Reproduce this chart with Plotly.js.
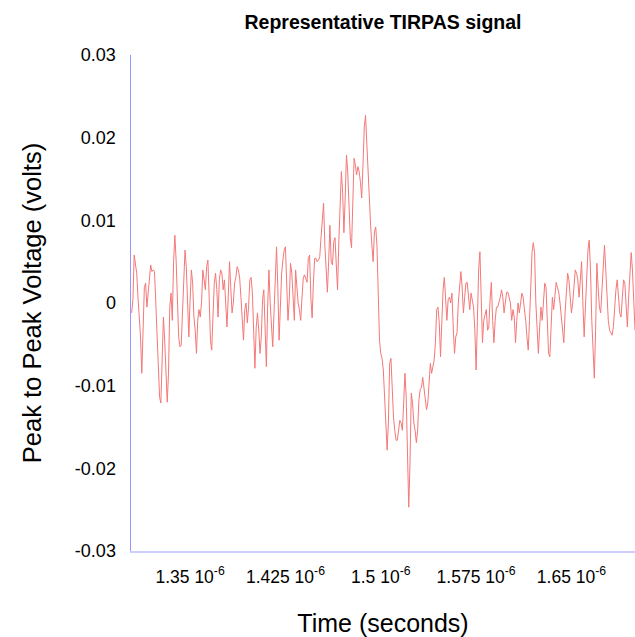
<!DOCTYPE html>
<html>
<head>
<meta charset="utf-8">
<script src="https://cdn.plot.ly/plotly-3.0.1.min.js"></script>
<style>
  html, body { margin: 0; padding: 0; background: #ffffff; }
  #chart { width: 635px; height: 637px; }
</style>
</head>
<body>
<div id="chart"></div>
<script>
// Signal sampling (oscilloscope record): first sample time and sample interval, in seconds
const startTime = 1.304e-6;
const sampleInterval = 1e-9;

// Peak-to-peak voltage samples, in millivolts, in time order
const signalSegment1 = [
  -1.2, 0.4, 5.8, 4.4, 3.6, 0.7, -1.2, -4.1, -8.5, -3.3,
  1.9, 2.4, -0.5, 1.2, 3.6, 4.6, 3.8, 4.0, 3.8, 0,
  -4.5, -8.1, -11.4, -12.1, -4.8, -1.7, -4.5, -9.3, -12.0, -8.5,
  -0.5, 1.2, -2.1, 5.0, 8.2, 5.2, 0.4, -4.1, -5.3, -5.1,
  -1.2, 3.6, 6.4, 4.4, -0.5, -4.1, 0.4, 4.0, 2.4, -1.7,
  -3.3, -6.1, -2.1, -0.8, -1.7, 0.1, 4.0, 2.8, 1.6, 4.4,
  5.2, 0.7, -4.5, -5.7, -1.2, 2.4, 3.6, 1.6, -1.7
];
const signalSegment2 = [
  2.8, 4.0, 3.6, 1.6, 2.8, 0, -2.9, 0.7, 5.0, 1.9,
  -1.2, 0, 2.4, 3.1, 4.4, 4.0, 3.0, 0.7, -2.4, -4.5,
  -0.8, 0, -2.4, -0.5, 2.8, 3.1, 1.2, -3.3, -7.9, -2.9,
  -1.2, -3.3, -6.1, -4.1, 0.4, 1.6, -2.9, -7.7, -0.5, 4.0,
  0, -3.3, -5.3, -1.2, 3.6, 6.8, 1.9, -4.5, -0.5, 3.6,
  5.2, 6.4, 6.8, 3.1, -2.1, 0.4, 4.8, 3.6, 0.7, -2.1,
  4.0, 1.9, 0
];
const signalSegment3 = [
  -0.8, -2.1, 0.6, 3.0, 3.4, 3.0, 2.5, 5.4, 5.8, 0.6,
  -1.8, 2.5, 5.4, 5.4, 5.0, 5.2, 5.6, 7.9, 10.6, 12.1,
  7.0, 3.0, 1.3, 5.0, 9.4, 5.0, 4.6, 7.4, 7.9, 4.6,
  1.6, 7.4, 11.9, 15.9, 13.4, 8.5, 12.7, 17.9, 15.9, 11.9,
  7.9, 6.7, 11.9, 17.5, 16.7, 15.5, 16.5, 15.9, 14.6, 12.7,
  16.7, 21.2, 22.7, 19.1, 15.9, 13.1, 9.4, 7.0, 5.0, 8.6,
  9.2, 7.0
];
const signalSegment4 = [
  0.4, -4.5, -6.1, -6.7, -8.1, -12.1, -15.4, -17.8, -14.5, -7.3,
  -6.7, -11.4, -13.8, -15.4, -16.6, -16.6, -15.4, -14.2, -14.5, -15.4,
  -12.1, -8.5, -11.4, -19.0, -24.7, -19.4, -10.9, -12.1, -14.5, -15.4,
  -16.9, -15.4, -11.7, -10.5, -10.2, -9.0, -10.5, -12.1, -12.9, -12.1,
  -9.7, -7.3, -8.5, -7.7, -6.9, -4.8, -0.8, -0.5, -2.4, -6.5,
  -1.7, 1.6, 3.1, 0, -2.1, 0.4, 0.7, 0, 1.2, -2.9,
  -6.1, -4.1
];
const signalSegment5 = [
  -3.6, 0, 1.9, 3.8, 1.9, -1.2, 0.7, 2.4, 2.5, 0.4,
  -0.8, 1.2, 0.4, -0.5, -3.3, -8.1, -2.1, 4.0, 6.2, 1.2,
  -4.8, -2.1, -1.2, -0.8, -3.3, -2.9, 0.4, 2.5, -2.1, -4.8,
  -2.1, -0.5, -0.5, 0, 0.7, 1.6, 0.7, -1.2, 0.4, 1.3,
  1.3, 0.7, 0, -2.1, -0.8, -1.7, -4.8, -2.1, 0, -1.2,
  0, 1.2, 0.7, -0.5, -2.1, -4.1, -5.7, -2.1, 1.9, 6.1,
  7.3, 6.1, 0, -3.6, -6.1, -2.9, -0.5
];
const signalSegment6 = [
  -2.1, 0.4, 2.4, 1.9, -3.3, -6.1, -6.5, -2.1, 0.7, -0.8,
  1.2, 2.5, 1.9, 1.3, 0, -1.7, -3.6, -4.8, -1.2, 1.9,
  3.6, 2.8, 0.4, -1.2, 0, 1.9, 4.0, 3.6, 2.8, 0.7,
  3.1, 5.0, 0, -4.1, -0.5, 4.0, 6.4, 7.6, 4.0, -2.1,
  -6.9, -9.1, -3.3, 4.8, 1.9, -0.5, -1.2, 1.9, 4.4, 7.0,
  4.0, 0, -2.1, -3.3, -3.6, -3.9, -2.9, -0.5, 1.6, 2.8,
  0.7, -1.2, -1.7, 1.2, 2.8, 2.4, -1.2, -2.9, 0.7, 4.0,
  6.1, 4.0, 0, -3.3
];

// Axis tick values and labels
const xTickValues = [1.35e-6, 1.425e-6, 1.5e-6, 1.575e-6, 1.65e-6];
const xTickLabels = ['1.35 10<sup>-6</sup>', '1.425 10<sup>-6</sup>', '1.5 10<sup>-6</sup>', '1.575 10<sup>-6</sup>', '1.65 10<sup>-6</sup>'];
const yTickValues = [-0.03, -0.02, -0.01, 0, 0.01, 0.02, 0.03];
const yTickLabels = ['-0.03', '-0.02', '-0.01', '0', '0.01', '0.02', '0.03'];

const signalMillivolts = [].concat(signalSegment1, signalSegment2, signalSegment3,
                                   signalSegment4, signalSegment5, signalSegment6);
const voltage = signalMillivolts.map(mv => mv / 1000);
const time = voltage.map((_, i) => startTime + i * sampleInterval);

const FONT = 'Arial, "Liberation Sans", Helvetica, sans-serif';

const trace = {
  type: 'scatter',
  mode: 'lines',
  x: time,
  y: voltage,
  line: { color: 'rgb(244,120,120)', width: 1 },
  hoverinfo: 'x+y'
};

const layout = {
  width: 635,
  height: 637,
  margin: { l: 131, r: 0, t: 55, b: 86, pad: 0 },
  paper_bgcolor: '#ffffff',
  plot_bgcolor: '#ffffff',
  showlegend: false,
  font: { family: FONT, color: '#000000' },
  title: {
    text: 'Representative TIRPAS signal',
    font: { family: FONT, size: 19.5, weight: 700, color: '#000000' },
    x: 0.5, xref: 'paper', xanchor: 'center',
    y: 0.965, yref: 'container', yanchor: 'middle'
  },
  xaxis: {
    range: [1.3035e-6, 1.7e-6],
    tickmode: 'array',
    tickvals: xTickValues,
    ticktext: xTickLabels,
    tickfont: { family: FONT, size: 17.5, color: '#000000' },
    ticks: 'outside', ticklen: 9, tickcolor: 'rgba(0,0,0,0)',
    showline: true, linecolor: 'rgb(205,205,255)', linewidth: 1.5,
    showgrid: false, zeroline: false,
    title: { text: 'Time (seconds)', font: { family: FONT, size: 25, color: '#000000' }, standoff: 40 }
  },
  yaxis: {
    range: [-0.03, 0.03],
    tickmode: 'array',
    tickvals: yTickValues,
    ticktext: yTickLabels,
    tickfont: { family: FONT, size: 18, color: '#000000' },
    ticks: 'outside', ticklen: 10, tickcolor: 'rgba(0,0,0,0)',
    showline: true, linecolor: 'rgb(150,150,255)', linewidth: 1.5,
    showgrid: false, zeroline: false,
    title: { text: 'Peak to Peak Voltage (volts)', font: { family: FONT, size: 25.5, color: '#000000' }, standoff: 26 }
  }
};

Plotly.newPlot('chart', [trace], layout, { displayModeBar: false, staticPlot: true });
</script>
</body>
</html>
